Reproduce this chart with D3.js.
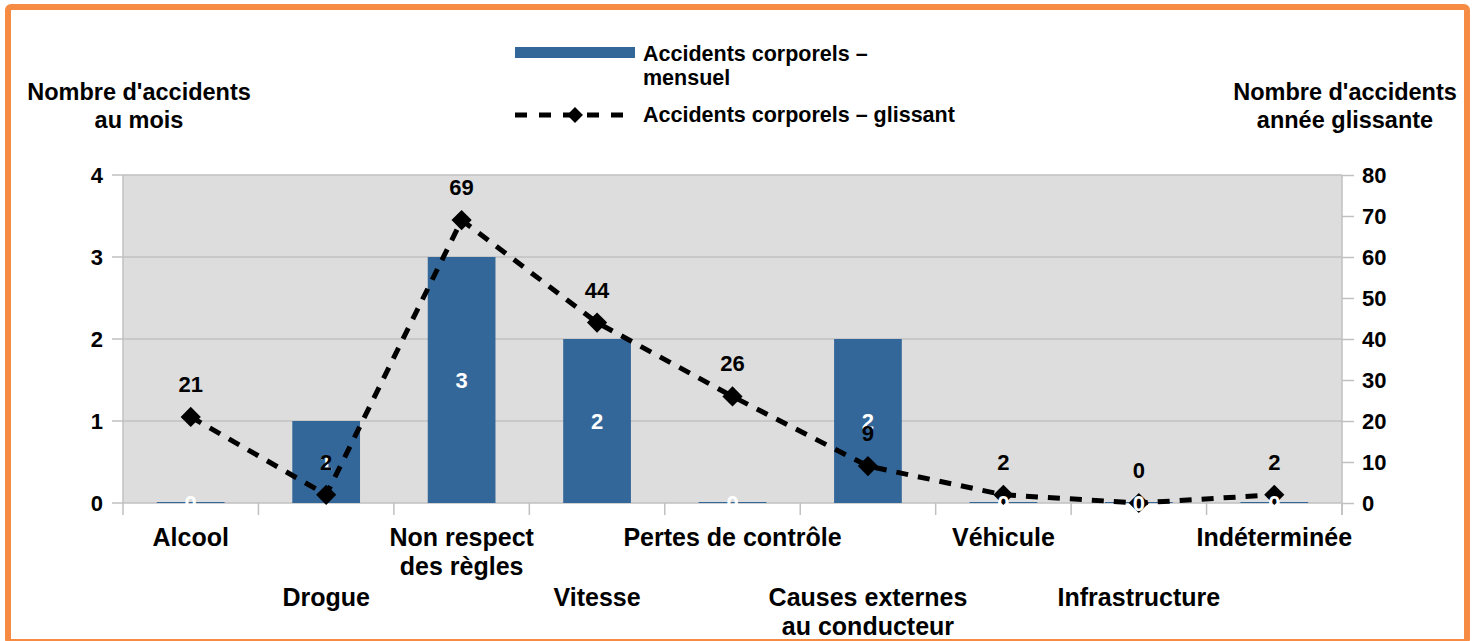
<!DOCTYPE html>
<html>
<head>
<meta charset="utf-8">
<script src="https://cdn.jsdelivr.net/npm/d3@7"></script>
<style>
  body { margin: 0; background: #fff; }
  svg text { font-family: "Liberation Sans", Arial, sans-serif; font-weight: bold; }
</style>
</head>
<body>
<div id="container"></div>
<script>
var categories = [
    ["Alcool"], ["Drogue"], ["Non respect", "des règles"], ["Vitesse"],
    ["Pertes de contrôle"], ["Causes externes", "au conducteur"], ["Véhicule"],
    ["Infrastructure"], ["Indéterminée"]
];
var mensuel = [0, 1, 3, 2, 0, 2, 0, 0, 0];
var glissant = [21, 2, 69, 44, 26, 9, 2, 0, 2];
var leftTicks = [0, 1, 2, 3, 4];
var rightTicks = [0, 10, 20, 30, 40, 50, 60, 70, 80];

var width = 1478, height = 641;
var margin = {left: 123, right: 136, top: 175, bottom: 138};
var barColor = "#336699";

var svg = d3.select("#container").append("svg")
    .attr("width", width)
    .attr("height", height);

// orange frame
svg.append("rect")
    .attr("x", 8).attr("y", 7)
    .attr("width", 1459).attr("height", 635)
    .attr("rx", 3)
    .attr("fill", "none")
    .attr("stroke", "#f68b44")
    .attr("stroke-width", 6);

var x = d3.scaleBand()
    .domain(d3.range(categories.length))
    .range([margin.left, width - margin.right]);

var y = d3.scaleLinear().domain([0, 4]).range([height - margin.bottom, margin.top]);
var y2 = d3.scaleLinear().domain([0, 80]).range([height - margin.bottom, margin.top]);

var plotW = width - margin.right - margin.left;
var plotH = height - margin.bottom - margin.top;

svg.append("rect")
    .attr("x", margin.left).attr("y", margin.top)
    .attr("width", plotW).attr("height", plotH)
    .attr("fill", "#dddddd");

// gridlines
svg.append("g").selectAll("line")
    .data(leftTicks)
    .enter().append("line")
    .attr("x1", margin.left - 11).attr("x2", width - margin.right)
    .attr("y1", function(d) { return y(d); })
    .attr("y2", function(d) { return y(d); })
    .attr("stroke", "#c0c0c0")
    .attr("stroke-width", 1.5);

// side borders
svg.append("line")
    .attr("x1", margin.left).attr("x2", margin.left)
    .attr("y1", margin.top).attr("y2", y(0))
    .attr("stroke", "#c0c0c0").attr("stroke-width", 1.5);
svg.append("line")
    .attr("x1", width - margin.right).attr("x2", width - margin.right)
    .attr("y1", margin.top).attr("y2", y(0) + 12)
    .attr("stroke", "#c0c0c0").attr("stroke-width", 1.5);

// left axis
var leftAxis = svg.append("g")
    .attr("transform", "translate(" + margin.left + ",0)")
    .call(d3.axisLeft(y).tickValues(leftTicks).tickFormat(d3.format("d")).tickSize(0).tickPadding(20));
leftAxis.select(".domain").remove();
leftAxis.selectAll("text").attr("font-size", 22).attr("fill", "#000");

// right axis
var rightAxis = svg.append("g")
    .attr("transform", "translate(" + (width - margin.right) + ",0)")
    .call(d3.axisRight(y2).tickValues(rightTicks).tickSize(12).tickPadding(8));
rightAxis.select(".domain").remove();
rightAxis.selectAll("line").attr("stroke", "#c0c0c0").attr("stroke-width", 1.5);
rightAxis.selectAll("text").attr("font-size", 22).attr("fill", "#000");

// x tick marks at band edges
svg.append("g").selectAll("line")
    .data(d3.range(categories.length + 1))
    .enter().append("line")
    .attr("x1", function(i) { return margin.left + i * x.step(); })
    .attr("x2", function(i) { return margin.left + i * x.step(); })
    .attr("y1", y(0)).attr("y2", y(0) + 12)
    .attr("stroke", "#c0c0c0").attr("stroke-width", 1.5);

// x labels (staggered)
var xLabels = svg.append("g").selectAll("text")
    .data(categories)
    .enter().append("text")
    .attr("text-anchor", "middle")
    .attr("font-size", 25)
    .attr("fill", "#000")
    .attr("transform", function(d, i) {
        var cx = x(i) + x.bandwidth() / 2;
        var cy = (i % 2 === 0) ? 546 : 606;
        return "translate(" + cx + "," + cy + ")";
    });
xLabels.selectAll("tspan")
    .data(function(d) { return d; })
    .enter().append("tspan")
    .attr("x", 0)
    .attr("dy", function(d, j) { return j === 0 ? 0 : 29; })
    .text(function(d) { return d; });

// bars
var barW = x.bandwidth() * 0.5;
svg.append("g").selectAll("rect")
    .data(mensuel)
    .enter().append("rect")
    .attr("x", function(d, i) { return x(i) + (x.bandwidth() - barW) / 2; })
    .attr("y", function(d) { return d === 0 ? y(0) - 1 : y(d); })
    .attr("width", barW)
    .attr("height", function(d) { return d === 0 ? 1 : y(0) - y(d); })
    .attr("fill", barColor);

// dashed line
var line = d3.line()
    .x(function(d, i) { return x(i) + x.bandwidth() / 2; })
    .y(function(d) { return y2(d); });

svg.append("path")
    .datum(glissant)
    .attr("d", line)
    .attr("fill", "none")
    .attr("stroke", "#000")
    .attr("stroke-width", 5)
    .attr("stroke-dasharray", "12,10");

var diamond = d3.symbol().type(d3.symbolDiamond2).size(260);
svg.append("g").selectAll("path")
    .data(glissant)
    .enter().append("path")
    .attr("d", diamond)
    .attr("transform", function(d, i) {
        return "translate(" + (x(i) + x.bandwidth() / 2) + "," + y2(d) + ")";
    })
    .attr("fill", "#000");

// bar labels
svg.append("g").selectAll("text")
    .data(mensuel)
    .enter().append("text")
    .attr("x", function(d, i) { return x(i) + x.bandwidth() / 2; })
    .attr("y", function(d) { return (y(0) + y(d)) / 2 + 8; })
    .attr("text-anchor", "middle")
    .attr("font-size", 22)
    .attr("fill", "#fff")
    .text(function(d) { return d; });

// line labels
svg.append("g").selectAll("text")
    .data(glissant)
    .enter().append("text")
    .attr("x", function(d, i) { return x(i) + x.bandwidth() / 2; })
    .attr("y", function(d) { return y2(d) - 25; })
    .attr("text-anchor", "middle")
    .attr("font-size", 22)
    .attr("fill", "#000")
    .text(function(d) { return d; });

// axis titles
var titles = [
    {x: 139, lines: ["Nombre d'accidents", "au mois"]},
    {x: 1345, lines: ["Nombre d'accidents", "année glissante"]}
];
svg.append("g").selectAll("text")
    .data(titles)
    .enter().append("text")
    .attr("text-anchor", "middle")
    .attr("font-size", 23.5)
    .attr("fill", "#000")
    .attr("transform", function(d) { return "translate(" + d.x + ",100)"; })
    .selectAll("tspan")
    .data(function(d) { return d.lines; })
    .enter().append("tspan")
    .attr("x", 0)
    .attr("dy", function(d, j) { return j === 0 ? 0 : 28; })
    .text(function(d) { return d; });

// legend
var legend = svg.append("g");
legend.append("rect")
    .attr("x", 515).attr("y", 47)
    .attr("width", 120).attr("height", 11)
    .attr("fill", barColor);
legend.append("text")
    .attr("x", 643).attr("y", 61)
    .attr("font-size", 21.5)
    .selectAll("tspan")
    .data(["Accidents corporels –", "mensuel"])
    .enter().append("tspan")
    .attr("x", 643)
    .attr("dy", function(d, j) { return j === 0 ? 0 : 24; })
    .text(function(d) { return d; });
legend.append("line")
    .attr("x1", 515).attr("x2", 635)
    .attr("y1", 115).attr("y2", 115)
    .attr("stroke", "#000")
    .attr("stroke-width", 5)
    .attr("stroke-dasharray", "12,12");
legend.append("path")
    .attr("d", d3.symbol().type(d3.symbolDiamond2).size(160))
    .attr("transform", "translate(575,115)")
    .attr("fill", "#000");
legend.append("text")
    .attr("x", 643).attr("y", 122)
    .attr("font-size", 21.5)
    .text("Accidents corporels – glissant");
</script>
</body>
</html>
